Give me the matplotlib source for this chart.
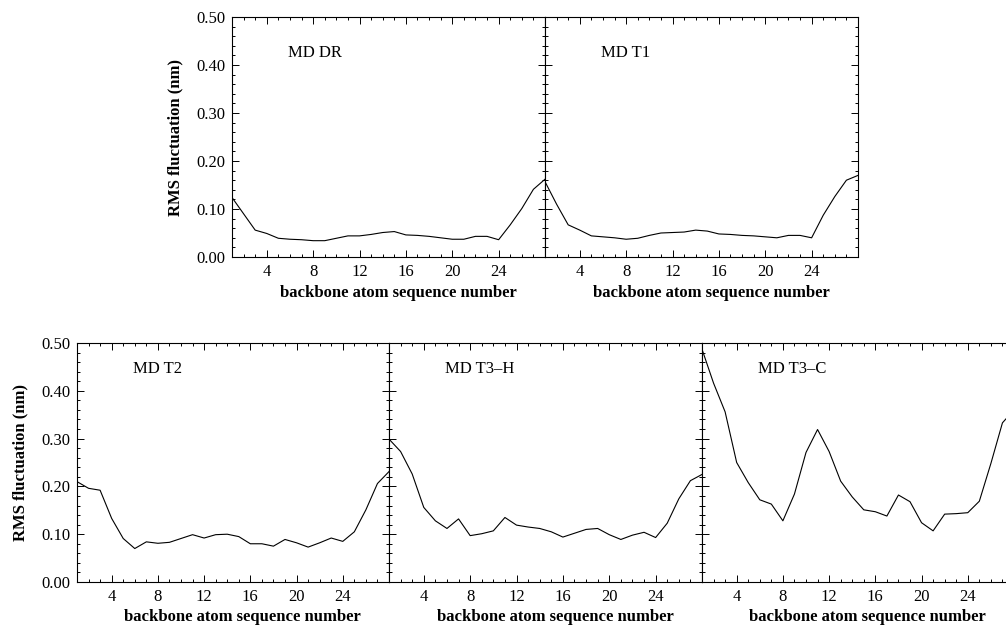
import matplotlib
matplotlib.use("Agg")
import matplotlib.pyplot as plt
from matplotlib.ticker import MultipleLocator, FixedLocator

plt.rcParams['font.family'] = ['Liberation Serif', 'DejaVu Serif']

# backbone atom sequence numbers
atoms = list(range(1, 29))

# RMS fluctuation (nm)
md_dr = [0.124, 0.090, 0.056, 0.049, 0.039, 0.037, 0.036, 0.034, 0.034, 0.039,
         0.044, 0.044, 0.047, 0.051, 0.053, 0.046, 0.045, 0.043, 0.040, 0.037,
         0.037, 0.043, 0.043, 0.036, 0.067, 0.101, 0.141, 0.162]
md_t1 = [0.157, 0.110, 0.067, 0.056, 0.044, 0.042, 0.040, 0.037, 0.039, 0.045,
         0.050, 0.051, 0.052, 0.056, 0.054, 0.048, 0.047, 0.045, 0.044, 0.042,
         0.040, 0.045, 0.045, 0.040, 0.087, 0.126, 0.160, 0.170]
md_t2 = [0.210, 0.196, 0.192, 0.133, 0.091, 0.070, 0.084, 0.081, 0.083, 0.091,
         0.099, 0.092, 0.099, 0.100, 0.095, 0.080, 0.080, 0.075, 0.089, 0.082,
         0.073, 0.082, 0.092, 0.085, 0.105, 0.151, 0.206, 0.231]
md_t3h = [0.299, 0.273, 0.226, 0.156, 0.128, 0.112, 0.132, 0.097, 0.101, 0.107,
          0.135, 0.119, 0.115, 0.112, 0.105, 0.094, 0.102, 0.110, 0.112, 0.099,
          0.089, 0.098, 0.104, 0.093, 0.123, 0.174, 0.212, 0.225]
md_t3c = [0.487, 0.416, 0.356, 0.250, 0.208, 0.172, 0.163, 0.128, 0.184, 0.271,
          0.319, 0.273, 0.211, 0.178, 0.151, 0.147, 0.138, 0.182, 0.168, 0.124,
          0.107, 0.142, 0.143, 0.145, 0.169, 0.248, 0.333, 0.360]

top_names = ["MD DR", "MD T1"]
bottom_names = ["MD T2", "MD T3\u2013H", "MD T3\u2013C"]
xticks = [4, 8, 12, 16, 20, 24]
yticks = [0.0, 0.1, 0.2, 0.3, 0.4, 0.5]

W, H = 1006, 627
fig = plt.figure(figsize=(W / 100, H / 100), dpi=100)


def make_panel(left, bottom, width, height, y, name, first, name_y):
    ax = fig.add_axes([left / W, (H - bottom) / H, width / W, height / H])
    ax.plot(atoms, y, color='black', lw=0.8)
    ax.set_xlim(1, 28)
    ax.set_ylim(0, 0.5)
    ax.xaxis.set_major_locator(FixedLocator(xticks))
    ax.xaxis.set_minor_locator(MultipleLocator(1))
    ax.yaxis.set_major_locator(FixedLocator(yticks))
    ax.yaxis.set_minor_locator(MultipleLocator(0.02))
    ax.tick_params(which='both', direction='in', top=True, right=True,
                   width=0.7, labelsize=12, colors='black')
    ax.tick_params(which='major', length=5, pad=5)
    ax.tick_params(which='minor', length=2.5)
    for s in ax.spines.values():
        s.set_linewidth(0.8)
    if first:
        ax.set_yticklabels(["%.2f" % v for v in yticks])
        ax.set_ylabel("RMS fluctuation (nm)", fontsize=12, fontweight='bold')
        ax.yaxis.set_label_coords(-0.155, 0.5)
    else:
        ax.set_yticklabels([])
    ax.set_xlabel("backbone atom sequence number", fontsize=12, fontweight='bold')
    ax.xaxis.set_label_coords(0.53, -0.115)
    ax.text(0.18, name_y, name, transform=ax.transAxes, fontsize=12,
            ha='left', va='center')
    return ax


# top row
make_panel(232, 257, 313, 240, md_dr, top_names[0], True, 0.85)
make_panel(545, 257, 313, 240, md_t1, top_names[1], False, 0.85)

# bottom row (last panel runs past the right edge, as in the original)
make_panel(77, 582, 312, 239, md_t2, bottom_names[0], True, 0.89)
make_panel(389, 582, 313, 239, md_t3h, bottom_names[1], False, 0.89)
make_panel(702, 582, 312, 239, md_t3c, bottom_names[2], False, 0.89)

fig.savefig("out.png", dpi=100)
